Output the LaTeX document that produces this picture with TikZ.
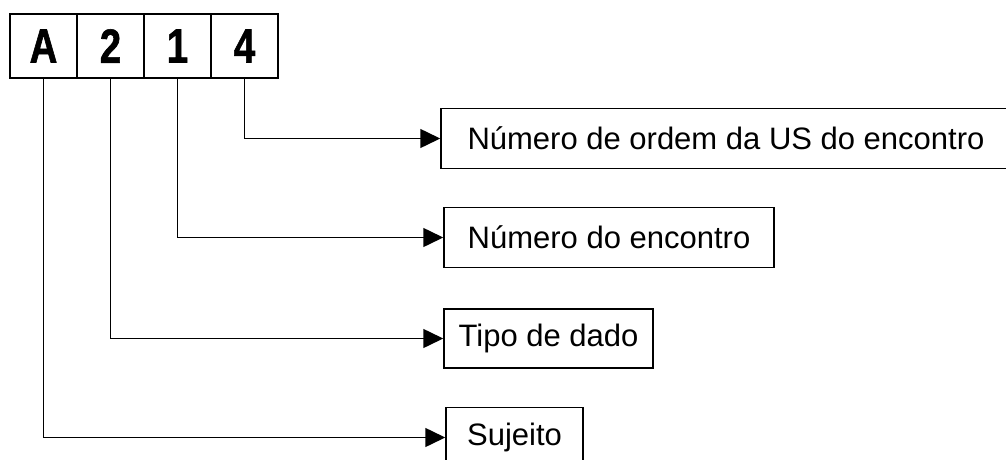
\documentclass[tikz,border=0pt]{standalone}
\usepackage{fontspec}
\setmainfont{Liberation Sans}
\newfontfamily\boldsans[FakeStretch=0.8,FakeBold=1.2]{Liberation Sans Bold}
\usetikzlibrary{arrows.meta}
\tikzset{
  cell/.style={draw=black, line width=1.5pt, minimum width=67pt, minimum height=64pt, inner sep=0pt,
    font=\boldsans\fontsize{48}{54}\selectfont},
  label box/.style={draw=black, line width=1.5pt, minimum height=60pt, inner sep=0pt,
    font=\fontsize{31}{36}\selectfont},
  arr/.style={draw=black, line width=1.5pt, -{Triangle[length=20pt,width=19pt]}}
}
\begin{document}
\begin{tikzpicture}[x=1pt,y=-1pt]
\clip (0,0) rectangle (1006,460);
\fill[white] (0,0) rectangle (1006,460);
% top cells
\node[cell] (c1) at (43.5,46) {A};
\node[cell] (c2) at (110.5,46) {2};
\node[cell] (c3) at (177.5,46) {1};
\node[cell] (c4) at (244.5,46) {4};
% label boxes
\node[label box, minimum width=570pt] (b1) at (726,138.5) {Número de ordem da US do encontro};
\node[label box, minimum width=330pt] (b2) at (609,237.5) {Número do encontro};
\node[label box, minimum width=209pt, minimum height=59pt] (b3) at (548.5,338.5) {Tipo de dado};
\node[label box, minimum width=137pt] (b4) at (514.5,437.5) {Sujeito};
% connectors
\draw[arr] (c4.south) |- (b1.west);
\draw[arr] (c3.south) |- (b2.west);
\draw[arr] (c2.south) |- (b3.west);
\draw[arr] (c1.south) |- (b4.west);
\end{tikzpicture}
\end{document}
